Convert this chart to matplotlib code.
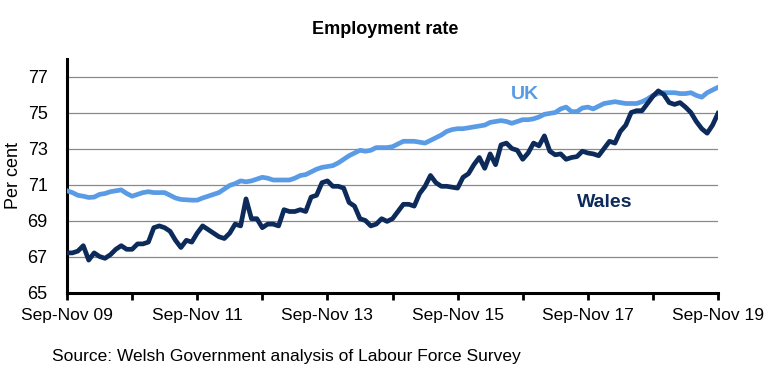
import matplotlib
matplotlib.use("Agg")
import matplotlib.pyplot as plt
import numpy as np

plt.rcParams["font.family"] = ["Liberation Sans", "DejaVu Sans"]

# Rolling quarters Sep-Nov 09 .. Sep-Nov 19 (monthly), employment rate %
wales = [
    67.2, 67.2, 67.3, 67.6, 66.8, 67.2, 67.0, 66.9, 67.1, 67.4,
    67.6, 67.4, 67.4, 67.7, 67.7, 67.8, 68.6, 68.7, 68.6, 68.4,
    67.9, 67.5, 67.9, 67.8, 68.3, 68.7, 68.5, 68.3, 68.1, 68.0,
    68.3, 68.8, 68.7, 70.2, 69.1, 69.1, 68.6, 68.8, 68.8, 68.7,
    69.6, 69.5, 69.5, 69.6, 69.5, 70.3, 70.4, 71.1, 71.2, 70.9,
    70.9, 70.8, 70.0, 69.8, 69.1, 69.0, 68.7, 68.8, 69.1, 68.95,
    69.1, 69.5, 69.9, 69.9, 69.8, 70.5, 70.9, 71.5, 71.1, 70.9,
    70.9, 70.85, 70.8, 71.4, 71.6, 72.1, 72.5, 71.9, 72.7, 72.1,
    73.2, 73.3, 73.0, 72.9, 72.4, 72.75, 73.3, 73.15, 73.7, 72.85,
    72.65, 72.7, 72.4, 72.5, 72.55, 72.85, 72.75, 72.7, 72.6, 73.0,
    73.4, 73.3, 73.95, 74.3, 75.0, 75.1, 75.1, 75.5, 75.9, 76.2,
    76.0, 75.55, 75.45, 75.55, 75.3, 75.0, 74.5, 74.1, 73.85, 74.3,
    74.95,
]
uk = [
    70.65, 70.55, 70.4, 70.35, 70.28, 70.3, 70.45, 70.5, 70.6, 70.65,
    70.7, 70.5, 70.35, 70.45, 70.55, 70.6, 70.55, 70.55, 70.55, 70.4,
    70.25, 70.17, 70.15, 70.13, 70.13, 70.25, 70.35, 70.45, 70.55, 70.75,
    70.95, 71.05, 71.2, 71.15, 71.2, 71.3, 71.4, 71.35, 71.25, 71.25,
    71.25, 71.25, 71.35, 71.5, 71.55, 71.7, 71.85, 71.95, 72.0, 72.05,
    72.2, 72.4, 72.6, 72.75, 72.9, 72.85, 72.9, 73.05, 73.05, 73.05,
    73.1, 73.25, 73.4, 73.4, 73.4, 73.35, 73.3, 73.45, 73.6, 73.75,
    73.95, 74.05, 74.1, 74.1, 74.15, 74.2, 74.25, 74.3, 74.45, 74.5,
    74.55, 74.5, 74.4, 74.5, 74.6, 74.6, 74.65, 74.75, 74.9, 74.95,
    75.0, 75.2, 75.3, 75.05, 75.05, 75.25, 75.3, 75.2, 75.35, 75.5,
    75.55, 75.6, 75.55, 75.5, 75.5, 75.5, 75.6, 75.75, 75.95, 76.05,
    76.1, 76.1, 76.1, 76.05, 76.05, 76.1, 75.95, 75.85, 76.1, 76.25,
    76.4,
]
tick_labels = ["Sep-Nov 09", "", "Sep-Nov 11", "", "Sep-Nov 13", "",
               "Sep-Nov 15", "", "Sep-Nov 17", "", "Sep-Nov 19"]
y_ticks = [65, 67, 69, 71, 73, 75, 77]

uk_col = "#5a9be6"
wales_col = "#0c2b5b"

fig = plt.figure(figsize=(7.77, 3.83), dpi=100)
ax = fig.add_axes([67 / 777, 1 - 292.5 / 383, 651 / 777, 234 / 383])

x = np.arange(len(wales))
ax.plot(x, uk, color=uk_col, lw=3.4, solid_joinstyle="round", zorder=3)
ax.plot(x, wales, color=wales_col, lw=3.4, solid_joinstyle="round", zorder=4)

ax.set_xlim(0, len(wales) - 1)
ax.set_ylim(65, 78)
ax.set_yticks(y_ticks)
ax.set_xticks(np.arange(0, len(wales), 12))
ax.set_xticklabels(tick_labels)

for v in y_ticks[1:]:
    ax.axhline(v, color="#8a8a8a", lw=0.9, zorder=1)

for s in ("top", "right"):
    ax.spines[s].set_visible(False)
for s in ("left", "bottom"):
    ax.spines[s].set_linewidth(2.2)
    ax.spines[s].set_color("black")

ax.tick_params(axis="y", length=0, pad=14, labelsize=13)
ax.tick_params(axis="x", length=5, width=2, direction="out", pad=6, labelsize=12.5)
ax.set_ylabel("Per cent", fontsize=13, labelpad=4)

ax.text(84.4, 76.0, "UK", color=uk_col, fontsize=14, fontweight="bold",
        ha="center", va="center")
ax.text(99.2, 70.0, "Wales", color=wales_col, fontsize=14, fontweight="bold",
        ha="center", va="center")

fig.text(385 / 777, 1 - 29 / 383, "Employment rate", fontsize=13,
         fontweight="bold", ha="center", va="center")
fig.text(52 / 777, 1 - 356 / 383,
         "Source: Welsh Government analysis of Labour Force Survey",
         fontsize=12.5, ha="left", va="center")

fig.savefig("out.png", dpi=100)
